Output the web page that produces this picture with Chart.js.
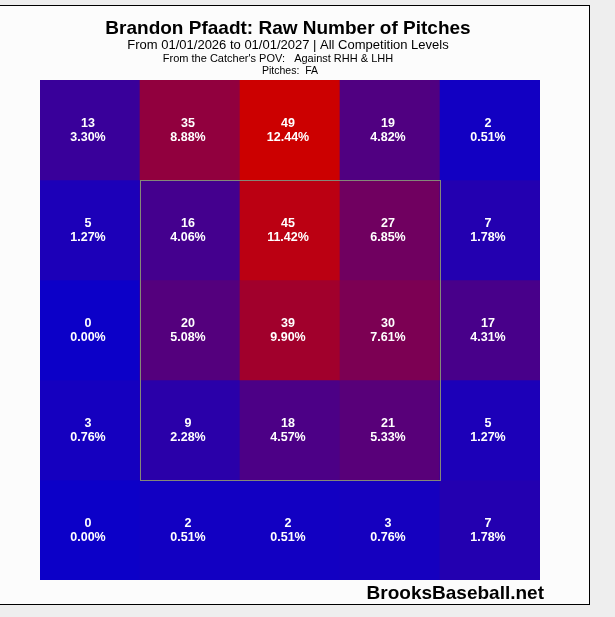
<!DOCTYPE html>
<html>
<head>
<meta charset="utf-8">
<script src="https://cdn.jsdelivr.net/npm/chart.js@4"></script>
<style>
    body { margin: 0; background: #eeeeee; }
    #frame {
        position: absolute; left: -1px; top: 5px; width: 591px; height: 600px;
        box-sizing: border-box; border: 1px solid #000; background: #fcfcfc;
    }
    #zone { position: absolute; left: 0; top: 0; }
</style>
</head>
<body>
<div id="frame"></div>
<canvas id="zone" width="615" height="617"></canvas>
<script>
// Pitch counts by zone, from the catcher's view, top row to bottom row
let columns = ['In 1', 'In 2', 'Middle', 'Out 2', 'Out 1'];
let rowTop    = [13, 35, 49, 19, 2];
let rowHigh   = [5, 16, 45, 27, 7];
let rowMid    = [0, 20, 39, 30, 17];
let rowLow    = [3, 9, 18, 21, 5];
let rowBottom = [0, 2, 2, 3, 7];
let pctTop    = ['3.30%', '8.88%', '12.44%', '4.82%', '0.51%'];
let pctHigh   = ['1.27%', '4.06%', '11.42%', '6.85%', '1.78%'];
let pctMid    = ['0.00%', '5.08%', '9.90%', '7.61%', '4.31%'];
let pctLow    = ['0.76%', '2.28%', '4.57%', '5.33%', '1.27%'];
let pctBottom = ['0.00%', '0.51%', '0.51%', '0.76%', '1.78%'];

let counts = [rowTop, rowHigh, rowMid, rowLow, rowBottom];
let pcts = [pctTop, pctHigh, pctMid, pctLow, pctBottom];
let maxCount = Math.max(...counts.flat());

// Cor do blue (poucos) ao red (muitos)
function heatColor(v) {
    let t = Math.pow(v / maxCount, 1.1);
    let r = Math.round(12 + t * (204 - 12));
    let b = Math.round(200 - t * 200);
    return `rgb(${r},0,${b})`;
}

let rows = counts.length;
let datasets = counts.map((row, r) => ({
    data: row.map(() => [rows - 1 - r, rows - r]),
    counts: row,
    pcts: pcts[r],
    backgroundColor: row.map(heatColor),
    borderWidth: 0,
    borderSkipped: false,
    grouped: false,
    categoryPercentage: 1,
    barPercentage: 1
}));

// Textos das células (contagem e percentual)
let cellLabels = {
    id: 'cellLabels',
    afterDatasetsDraw(chart) {
        let ctx = chart.ctx;
        ctx.save();
        ctx.fillStyle = '#ffffff';
        ctx.textAlign = 'center';
        ctx.font = 'bold 12.5px "Liberation Sans", Arial, sans-serif';
        chart.data.datasets.forEach((ds, i) => {
            chart.getDatasetMeta(i).data.forEach((el, j) => {
                let cx = el.x - 2;
                let cy = (el.y + el.base) / 2;
                ctx.fillText(String(ds.counts[j]), cx, cy - 3);
                ctx.fillText(ds.pcts[j], cx, cy + 11);
            });
        });

        // Zona de strike
        let x = chart.scales.x, y = chart.scales.y;
        let half = (x.getPixelForTick(1) - x.getPixelForTick(0)) / 2;
        let left = x.getPixelForTick(1) - half;
        let right = x.getPixelForTick(3) + half;
        let top = y.getPixelForValue(4);
        let bottom = y.getPixelForValue(1);
        ctx.strokeStyle = '#848878';
        ctx.lineWidth = 1;
        ctx.strokeRect(Math.round(left) + 0.5, Math.round(top) + 0.5, right - left, bottom - top);
        ctx.restore();
    }
};

// Títulos e marca
let headings = {
    id: 'headings',
    afterDraw(chart) {
        let ctx = chart.ctx;
        let area = chart.chartArea;
        let mid = (area.left + area.right) / 2;
        ctx.save();
        ctx.fillStyle = '#000000';
        ctx.textAlign = 'center';
        ctx.font = 'bold 19px "Liberation Sans", Arial, sans-serif';
        ctx.fillText('Brandon Pfaadt: Raw Number of Pitches', mid - 2, 34);
        ctx.font = '13px "Liberation Sans", Arial, sans-serif';
        ctx.fillText('From 01/01/2026 to 01/01/2027 | All Competition Levels', mid - 2, 49);
        ctx.font = '11px "Liberation Sans", Arial, sans-serif';
        ctx.fillText('From the Catcher\'s POV:   Against RHH & LHH', mid - 12, 61.5);
        ctx.font = '10.5px "Liberation Sans", Arial, sans-serif';
        ctx.fillText('Pitches:  FA', mid, 73.5);
        ctx.textAlign = 'right';
        ctx.font = 'bold 19px "Liberation Sans", Arial, sans-serif';
        ctx.fillText('BrooksBaseball.net', area.right + 4, 599);
        ctx.restore();
    }
};

new Chart(document.getElementById('zone').getContext('2d'), {
    type: 'bar',
    data: {
        labels: columns,
        datasets: datasets
    },
    options: {
        responsive: false,
        devicePixelRatio: 1,
        animation: false,
        layout: {
            padding: { left: 40, top: 80, right: 75, bottom: 37 }
        },
        plugins: {
            legend: { display: false },
            tooltip: { enabled: false }
        },
        scales: {
            x: { display: false, offset: true, grid: { display: false } },
            y: { display: false, min: 0, max: rows, grid: { display: false } }
        }
    },
    plugins: [cellLabels, headings]
});
</script>
</body>
</html>
